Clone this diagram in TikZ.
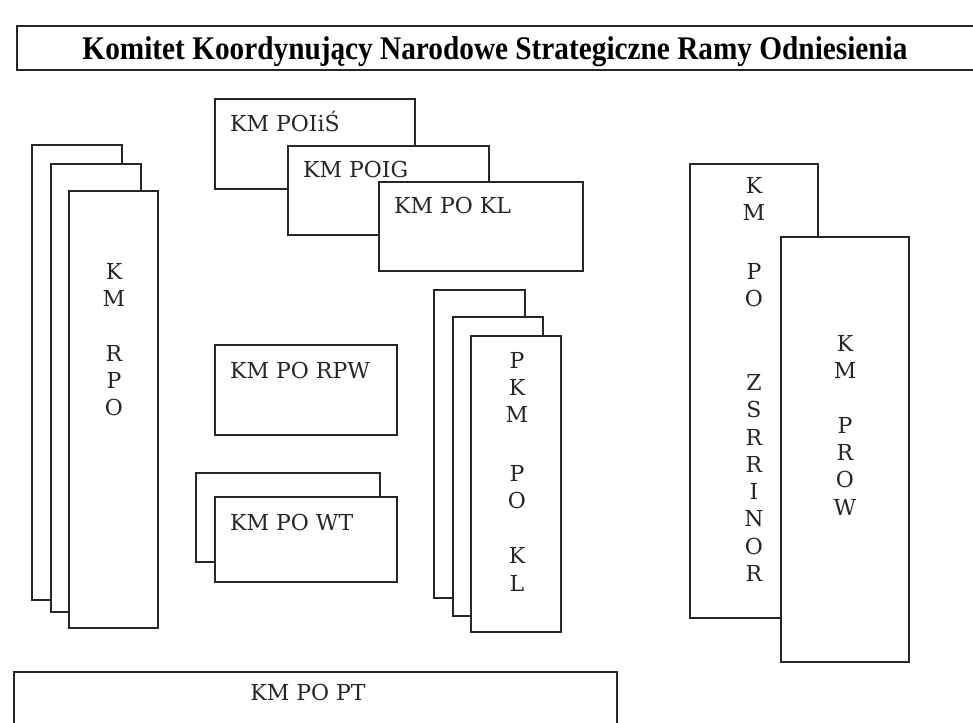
\documentclass[tikz,border=0pt]{standalone}
\usepackage{fontspec}
\usepackage{graphicx}
\newfontfamily\titlefont{Liberation Serif}
\newfontfamily\labfont{DejaVu Serif}
\begin{document}
\begin{tikzpicture}[x=1pt,y=-1pt,
  box/.style={draw=black!85, line width=1.6pt, fill=white},
  lab/.style={inner sep=0pt, text=black!85, font=\labfont\fontsize{22}{27.3}\selectfont},
  stack/.style={lab, align=center, anchor=north}]
\useasboundingbox (0,0) rectangle (973,722);
\clip (0,0) rectangle (973,722);
\fill[white] (0,0) rectangle (973,722);
% title
\draw[box, line width=2pt] (17,26) rectangle (1000,70);
\node[inner sep=0pt, anchor=base, font=\titlefont\bfseries\fontsize{33}{36}\selectfont] (title) at (495,60)
  {\resizebox{825pt}{\height}{Komitet Koordynujący Narodowe Strategiczne Ramy Odniesienia}};
% KM RPO stack
\draw[box] (32,145) rectangle (122,600);
\draw[box] (51,164) rectangle (141,612);
\draw[box] (69,191) rectangle (158,628);
\node[stack] (rpo) at (114,263) {K\\M\\[27.3pt]R\\P\\O};
% POIiS group
\draw[box] (215,99) rectangle (415,189);
\node[lab, anchor=base west] (poiis) at (230,132) {KM POIiŚ};
\draw[box] (288,146) rectangle (489,235);
\node[lab, anchor=base west] (poig) at (303,177) {KM POIG};
\draw[box] (379,182) rectangle (583,271);
\node[lab, anchor=base west] (pokl) at (394,213) {KM PO KL};
% RPW
\draw[box] (215,345) rectangle (397,435);
\node[lab, anchor=base west] (rpw) at (230,378) {KM PO RPW};
% WT
\draw[box] (196,473) rectangle (380,562);
\draw[box] (215,497) rectangle (397,582);
\node[lab, anchor=base west] (wt) at (230,530) {KM PO WT};
% PKM PO KL stack
\draw[box] (434,290) rectangle (525,598);
\draw[box] (453,317) rectangle (543,616);
\draw[box] (471,336) rectangle (561,632);
\node[stack] (pkmpokl) at (517,352) {P\\K\\M\\[31.5pt]P\\O\\[27.5pt]K\\L};
% ZSRRINOR
\draw[box] (690,164) rectangle (818,618);
\node[stack] (zsr) at (754,177) {K\\M\\[31.5pt]P\\O\\[56.5pt]Z\\S\\R\\R\\I\\N\\O\\R};
% PROW
\draw[box] (781,237) rectangle (909,662);
\node[stack] (prow) at (845,335) {K\\M\\[27.3pt]P\\R\\O\\W};
% PT
\draw[box] (14,672) rectangle (617,740);
\node[lab, anchor=base] (pt) at (308,700) {KM PO PT};
\end{tikzpicture}
\end{document}
